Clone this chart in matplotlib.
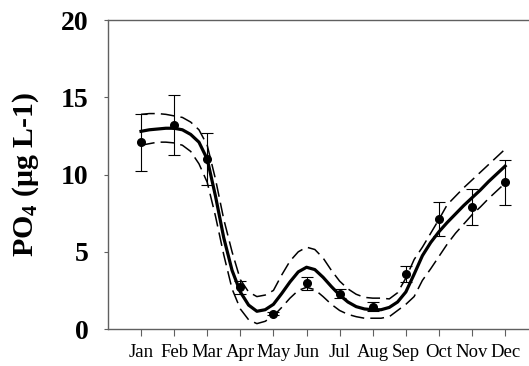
import numpy as np
import matplotlib
matplotlib.use("Agg")
import matplotlib.pyplot as plt

# monthly means and error bars
months = ['Jan', 'Feb', 'Mar', 'Apr', 'May', 'Jun', 'Jul', 'Aug', 'Sep', 'Oct', 'Nov', 'Dec']
month_pos = [1, 2, 3, 4, 5, 6, 7, 8, 9, 10, 11, 12]
po4_mean = [12.1, 13.2, 11.0, 2.7, 1.0, 2.95, 2.3, 1.45, 3.55, 7.15, 7.9, 9.5]
po4_err = [1.85, 1.95, 1.7, 0.4, 0.1, 0.4, 0.3, 0.3, 0.5, 1.1, 1.15, 1.45]

# fitted curve and confidence band, read every quarter month
fit_x = [1.0, 1.25, 1.5, 1.75, 2.0, 2.25, 2.5, 2.75, 3.0, 3.25, 3.5, 3.75,
         4.0, 4.25, 4.5, 4.75, 5.0, 5.25, 5.5, 5.75, 6.0, 6.25, 6.5, 6.75,
         7.0, 7.25, 7.5, 7.75, 8.0, 8.25, 8.5, 8.75, 9.0, 9.25, 9.5, 9.75,
         10.0, 10.25, 10.5, 10.75, 11.0, 11.25, 11.5, 11.75, 12.0]
fit_y = [12.8, 12.9, 12.95, 13.0, 13.0, 12.9, 12.6, 12.1, 11.0, 8.6, 5.9, 3.8,
         2.4, 1.55, 1.15, 1.25, 1.6, 2.3, 3.05, 3.7, 4.0, 3.85, 3.35, 2.75,
         2.2, 1.75, 1.45, 1.3, 1.25, 1.25, 1.4, 1.75, 2.4, 3.55, 4.75, 5.6,
         6.3, 6.9, 7.45, 8.0, 8.5, 9.0, 9.55, 10.05, 10.55]
upper_y = [13.9, 13.95, 13.95, 13.9, 13.8, 13.7, 13.4, 12.9, 11.9, 9.7, 7.1, 5.0,
           3.2, 2.4, 2.1, 2.2, 2.5, 3.5, 4.4, 5.0, 5.3, 5.15, 4.6, 3.8,
           3.1, 2.6, 2.25, 2.05, 2.0, 2.0, 1.95, 2.35, 3.3, 4.5, 5.3, 6.2,
           7.1, 8.05, 8.6, 9.15, 9.65, 10.15, 10.65, 11.15, 11.65]
lower_y = [11.9, 12.0, 12.1, 12.1, 12.05, 11.9, 11.5, 10.7, 9.5, 7.3, 4.8, 2.6,
           1.3, 0.6, 0.35, 0.5, 0.85, 1.4, 2.0, 2.5, 2.7, 2.55, 2.1, 1.6,
           1.2, 0.95, 0.8, 0.7, 0.7, 0.7, 0.8, 1.2, 1.6, 2.1, 3.15, 3.9,
           4.7, 5.5, 6.2, 6.8, 7.4, 7.9, 8.45, 8.95, 9.45]

plt.rcParams['font.family'] = ['Liberation Serif', 'DejaVu Serif']
plt.rcParams['mathtext.fontset'] = 'custom'
plt.rcParams['mathtext.rm'] = 'Liberation Serif:bold'
plt.rcParams['mathtext.it'] = 'Liberation Serif:bold'
plt.rcParams['mathtext.bf'] = 'Liberation Serif:bold'

fig = plt.figure(figsize=(5.29, 3.66), dpi=100)
ax = fig.add_axes([0.204, 0.101, 0.796, 0.844])

ax.plot(fit_x, upper_y, color='black', lw=1.1, dashes=(9, 4))
ax.plot(fit_x, lower_y, color='black', lw=1.1, dashes=(9, 4))
ax.plot(fit_x, fit_y, color='black', lw=2.3)
ax.errorbar(month_pos, po4_mean, yerr=po4_err, fmt='o', color='black',
            ms=5.5, elinewidth=0.8, capsize=4.5, capthick=0.8)

ax.set_xlim(0, 12.72)
ax.set_ylim(0, 20)
ax.set_xticks(month_pos)
ax.set_xticklabels(months, fontsize=13.5)
ax.set_yticks([0, 5, 10, 15, 20])
ax.set_yticklabels(['0', '5', '10', '15', '20'], fontsize=20, fontweight='bold')
ax.set_ylabel(r'PO$_{4}$ (μg L-1)', fontsize=21.5, fontweight='bold', labelpad=14)

for side in ['left', 'bottom', 'top']:
    ax.spines[side].set_color('#606060')
    ax.spines[side].set_linewidth(1.0)
ax.spines['right'].set_visible(False)
ax.tick_params(axis='x', direction='out', length=5, color='#606060', pad=6)
ax.tick_params(axis='y', direction='out', length=3, color='#606060', pad=11)

fig.savefig('out.png', dpi=100)
